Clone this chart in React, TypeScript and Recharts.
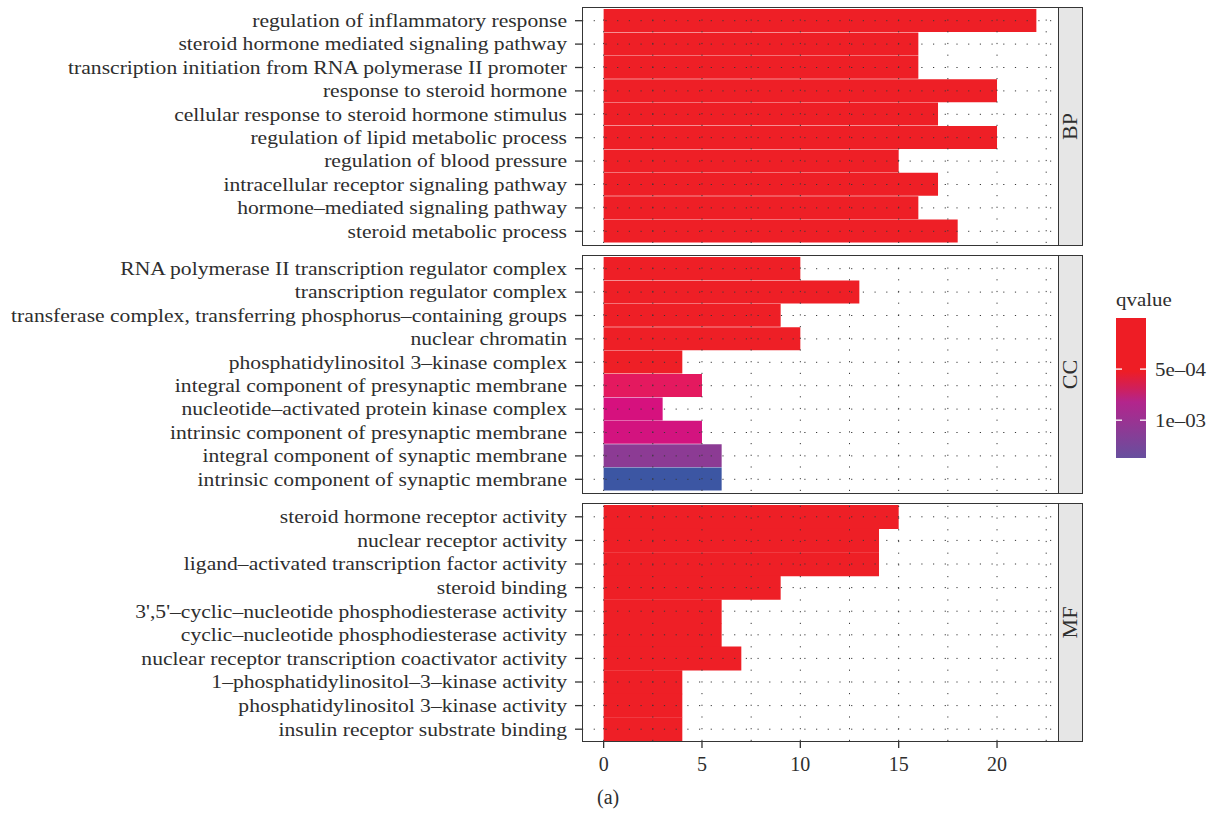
import React from 'react';
import { BarChart, Bar, XAxis, YAxis, Cell, ReferenceLine } from 'recharts';

// GO enrichment terms, counts and qvalues per ontology
const bpTerms = [
  'regulation of inflammatory response',
  'steroid hormone mediated signaling pathway',
  'transcription initiation from RNA polymerase II promoter',
  'response to steroid hormone',
  'cellular response to steroid hormone stimulus',
  'regulation of lipid metabolic process',
  'regulation of blood pressure',
  'intracellular receptor signaling pathway',
  'hormone–mediated signaling pathway',
  'steroid metabolic process',
];
const bpCounts = [22, 16, 16, 20, 17, 20, 15, 17, 16, 18];
const bpQ = [1e-6, 2e-6, 3e-6, 3e-6, 4e-6, 5e-6, 8e-6, 9e-6, 1e-5, 1.2e-5];

const ccTerms = [
  'RNA polymerase II transcription regulator complex',
  'transcription regulator complex',
  'transferase complex, transferring phosphorus–containing groups',
  'nuclear chromatin',
  'phosphatidylinositol 3–kinase complex',
  'integral component of presynaptic membrane',
  'nucleotide–activated protein kinase complex',
  'intrinsic component of presynaptic membrane',
  'integral component of synaptic membrane',
  'intrinsic component of synaptic membrane',
];
const ccCounts = [10, 13, 9, 10, 4, 5, 3, 5, 6, 6];
const ccQ = [1e-4, 1.2e-4, 2e-4, 2.5e-4, 3e-4, 7.8e-4, 9.6e-4, 9.7e-4, 1.2e-3, 1.37e-3];

const mfTerms = [
  'steroid hormone receptor activity',
  'nuclear receptor activity',
  'ligand–activated transcription factor activity',
  'steroid binding',
  "3',5'–cyclic–nucleotide phosphodiesterase activity",
  'cyclic–nucleotide phosphodiesterase activity',
  'nuclear receptor transcription coactivator activity',
  '1–phosphatidylinositol–3–kinase activity',
  'phosphatidylinositol 3–kinase activity',
  'insulin receptor substrate binding',
];
const mfCounts = [15, 14, 14, 9, 6, 6, 7, 4, 4, 4];
const mfQ = [1e-7, 1e-7, 1e-7, 2e-6, 5e-6, 8e-6, 1e-5, 2e-5, 2e-5, 3e-5];

const xTicks = [0, 5, 10, 15, 20];
const gridX = [0, 2.5, 5, 7.5, 10, 12.5, 15, 17.5, 20, 22.5];
const legendTicks = [5e-4, 1e-3];
const legendLabels = ['5e–04', '1e–03'];
const Q_MIN = 0;
const Q_MAX = 1.37e-3;

const FONT = '"Liberation Serif", "Times New Roman", serif';
const TXT = '#2e2e2e';
const DOMAIN: [number, number] = [-1.1, 23.1];

// colour ramp for qvalue
const RAMP: [number, string][] = [
  [0, '#EE1F26'],
  [5.5e-4, '#EE1F26'],
  [7.8e-4, '#E4195F'],
  [9.6e-4, '#D6117E'],
  [1.2e-3, '#8C3B94'],
  [1.37e-3, '#3C56A3'],
];
function hex(c: string) {
  return [1, 3, 5].map((i) => parseInt(c.slice(i, i + 2), 16));
}
function qColor(q: number) {
  if (q <= RAMP[0][0]) return RAMP[0][1];
  for (let i = 1; i < RAMP.length; i++) {
    if (q <= RAMP[i][0]) {
      const [q0, c0] = RAMP[i - 1];
      const [q1, c1] = RAMP[i];
      const t = (q - q0) / (q1 - q0);
      const a = hex(c0), b = hex(c1);
      const m = a.map((v, k) => Math.round(v + (b[k] - v) * t));
      return `rgb(${m[0]},${m[1]},${m[2]})`;
    }
  }
  return RAMP[RAMP.length - 1][1];
}

// the source font is wider than Times, so stretch labels a little
const YTick = (props: any) => {
  const { x, y, payload } = props;
  return (
    <text
      transform={`translate(${x},${y}) scale(1.2,1)`}
      dy="0.35em"
      textAnchor="end"
      fontFamily={FONT}
      fontSize={18}
      fill={TXT}
    >
      {payload.value}
    </text>
  );
};

const XTick = (props: any) => {
  const { x, y, payload } = props;
  return (
    <text x={x} y={y} dy="0.8em" textAnchor="middle" fontFamily={FONT} fontSize={20} fill={TXT}>
      {payload.value}
    </text>
  );
};

interface PanelProps {
  terms: string[];
  counts: number[];
  qs: number[];
  strip: string;
  top: number;
  showX?: boolean;
}

const PANEL_L = 582;
const PANEL_R = 1058;
const STRIP_R = 1083;
const PANEL_H = 238;

function Panel({ terms, counts, qs, strip, top, showX }: PanelProps) {
  const data = terms.map((t, i) => ({ term: t, count: counts[i], q: qs[i] }));
  const axisH = showX ? 60 : 0;
  return (
    <>
      <div style={{ position: 'absolute', left: 0, top }}>
        <BarChart
          width={PANEL_R + 2}
          height={PANEL_H + axisH}
          data={data}
          layout="vertical"
          barCategoryGap={0}
          margin={{ top: 2, right: 2, bottom: showX ? 0 : 2, left: 0 }}
        >
          <XAxis
            type="number"
            dataKey="count"
            domain={DOMAIN}
            allowDataOverflow
            ticks={xTicks}
            hide={!showX}
            height={axisH}
            axisLine={false}
            tickSize={7}
            tickMargin={7}
            tickLine={{ stroke: '#333', strokeWidth: 1.3 }}
            tick={<XTick />}
          />
          <YAxis
            type="category"
            dataKey="term"
            width={PANEL_L}
            axisLine={false}
            tickSize={7}
            tickMargin={8}
            tickLine={{ stroke: '#333', strokeWidth: 1.3 }}
            tick={<YTick />}
            interval={0}
          />
          <Bar dataKey="count" isAnimationActive={false}>
            {data.map((d, i) => (
              <Cell key={i} fill={qColor(d.q)} />
            ))}
          </Bar>
          {gridX.map((v) => (
            <ReferenceLine key={'x' + v} x={v} stroke="#3a3a3a" strokeWidth={1} strokeDasharray="1.2 10.5" />
          ))}
          {terms.map((t) => (
            <ReferenceLine key={'y' + t} y={t} stroke="#3a3a3a" strokeWidth={1} strokeDasharray="1.2 10.5" />
          ))}
        </BarChart>
      </div>
      <div
        style={{
          position: 'absolute', left: PANEL_L, top: top, width: PANEL_R - PANEL_L + 1, height: PANEL_H + 1,
          border: '1.5px solid #353535', boxSizing: 'border-box', pointerEvents: 'none',
        }}
      />
      <div
        style={{
          position: 'absolute', left: PANEL_R, top: top, width: STRIP_R - PANEL_R, height: PANEL_H + 1,
          border: '1.5px solid #353535', boxSizing: 'border-box', background: '#E6E6E6',
          display: 'flex', alignItems: 'center', justifyContent: 'center',
        }}
      >
        <div style={{ transform: 'rotate(-90deg) scale(1.1,1)', fontFamily: FONT, fontSize: 20, color: TXT, whiteSpace: 'nowrap' }}>
          {strip}
        </div>
      </div>
    </>
  );
}

function QLegend() {
  const barTop = 38;
  const barH = 140;
  const pos = (q: number) => barTop + ((q - Q_MIN) / (Q_MAX - Q_MIN)) * barH;
  return (
    <svg style={{ position: 'absolute', left: 1100, top: 280 }} width={116} height={200}>
      <defs>
        <linearGradient id="qgrad" x1="0" y1="0" x2="0" y2="1">
          <stop offset="0" stopColor="#EE1D25" />
          <stop offset="0.38" stopColor="#EE1D25" />
          <stop offset="0.5" stopColor="#D01F5A" />
          <stop offset="0.6" stopColor="#B3258C" />
          <stop offset="1" stopColor="#674F9E" />
        </linearGradient>
      </defs>
      <text transform="translate(16,26) scale(1.1,1)" fontFamily={FONT} fontSize={19} fill={TXT}>qvalue</text>
      <rect x={16} y={barTop} width={30} height={barH} fill="url(#qgrad)" />
      {legendTicks.map((q, i) => (
        <g key={q}>
          <line x1={16} x2={22} y1={pos(q)} y2={pos(q)} stroke="#fff" strokeWidth={1.3} />
          <line x1={40} x2={46} y1={pos(q)} y2={pos(q)} stroke="#fff" strokeWidth={1.3} />
          <text transform={`translate(55,${pos(q)}) scale(1.1,1)`} dy="0.35em" fontFamily={FONT} fontSize={19} fill={TXT}>
            {legendLabels[i]}
          </text>
        </g>
      ))}
    </svg>
  );
}

export default function App() {
  return (
    <div style={{ position: 'absolute', left: 0, top: 0, width: 1216, height: 814, background: '#fff', overflow: 'hidden' }}>
      <Panel terms={bpTerms} counts={bpCounts} qs={bpQ} strip="BP" top={7} />
      <Panel terms={ccTerms} counts={ccCounts} qs={ccQ} strip="CC" top={255} />
      <Panel terms={mfTerms} counts={mfCounts} qs={mfQ} strip="MF" top={503} showX />
      <QLegend />
      <div style={{ position: 'absolute', left: 597, top: 786, fontFamily: FONT, fontSize: 20, color: TXT }}>(a)</div>
    </div>
  );
}
